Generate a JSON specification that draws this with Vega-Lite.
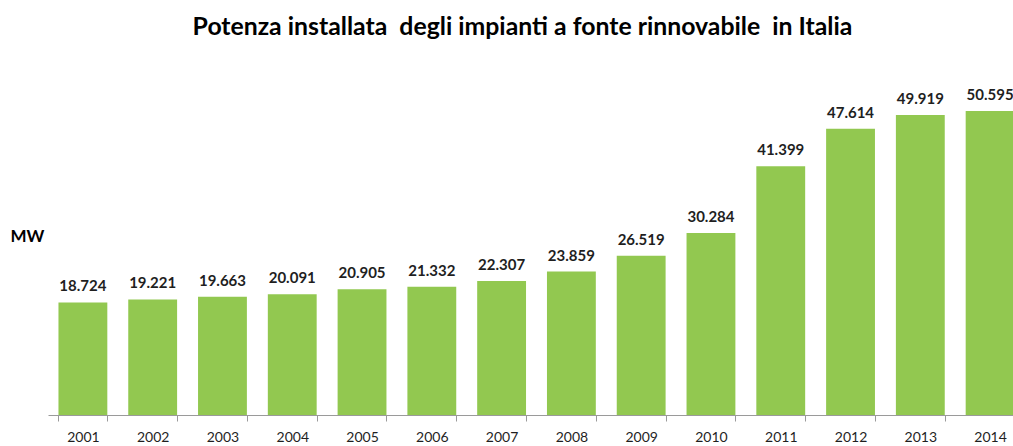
{
  "$schema": "https://vega.github.io/schema/vega-lite/v6.json",
  "width": 965,
  "height": 355,
  "autosize": {"type": "none"},
  "padding": {"left": 48, "top": 60, "right": 0, "bottom": 31},
  "background": "white",
  "title": {
    "text": "Potenza installata\u00a0 degli impianti a fonte rinnovabile\u00a0 in Italia",
    "font": "Lato",
    "fontSize": 24.8,
    "fontWeight": "bold",
    "color": "#000000",
    "anchor": "middle",
    "dx": -8,
    "offset": 20
  },
  "data": {
    "values": [
      {"anno": "2001", "mw": 18.724},
      {"anno": "2002", "mw": 19.221},
      {"anno": "2003", "mw": 19.663},
      {"anno": "2004", "mw": 20.091},
      {"anno": "2005", "mw": 20.905},
      {"anno": "2006", "mw": 21.332},
      {"anno": "2007", "mw": 22.307},
      {"anno": "2008", "mw": 23.859},
      {"anno": "2009", "mw": 26.519},
      {"anno": "2010", "mw": 30.284},
      {"anno": "2011", "mw": 41.399},
      {"anno": "2012", "mw": 47.614},
      {"anno": "2013", "mw": 49.919},
      {"anno": "2014", "mw": 50.595}
    ]
  },
  "encoding": {
    "x": {
      "field": "anno",
      "type": "ordinal",
      "scale": {"range": [0, 977], "paddingInner": 0.3, "paddingOuter": 0.15},
      "axis": {
        "title": null,
        "labelAngle": 0,
        "labelFont": "Lato",
        "labelFontSize": 14,
        "labelColor": "#1f1f1f",
        "labelPadding": 9,
        "tickBand": "extent",
        "tickSize": 6,
        "tickColor": "#9a9a9a",
        "domainColor": "#9a9a9a",
        "grid": false
      }
    },
    "y": {
      "field": "mw",
      "type": "quantitative",
      "scale": {"domain": [0, 59.07], "nice": false, "zero": true},
      "axis": {
        "title": "MW",
        "titleAngle": 0,
        "titleFont": "Lato",
        "titleFontSize": 17,
        "titleFontWeight": "bold",
        "titleColor": "#000000",
        "titleAlign": "left",
        "titleBaseline": "middle",
        "titleX": -38,
        "titleY": 176,
        "domain": false,
        "ticks": false,
        "labels": false,
        "grid": false
      }
    }
  },
  "layer": [
    {"mark": {"type": "bar", "color": "#92c850"}},
    {
      "mark": {
        "type": "text",
        "font": "Lato",
        "fontSize": 15,
        "fontWeight": "bold",
        "color": "#1f1f1f",
        "baseline": "bottom",
        "dy": -8
      },
      "encoding": {"text": {"field": "mw", "type": "quantitative", "format": ".3f"}}
    }
  ],
  "config": {"view": {"stroke": null}}
}
